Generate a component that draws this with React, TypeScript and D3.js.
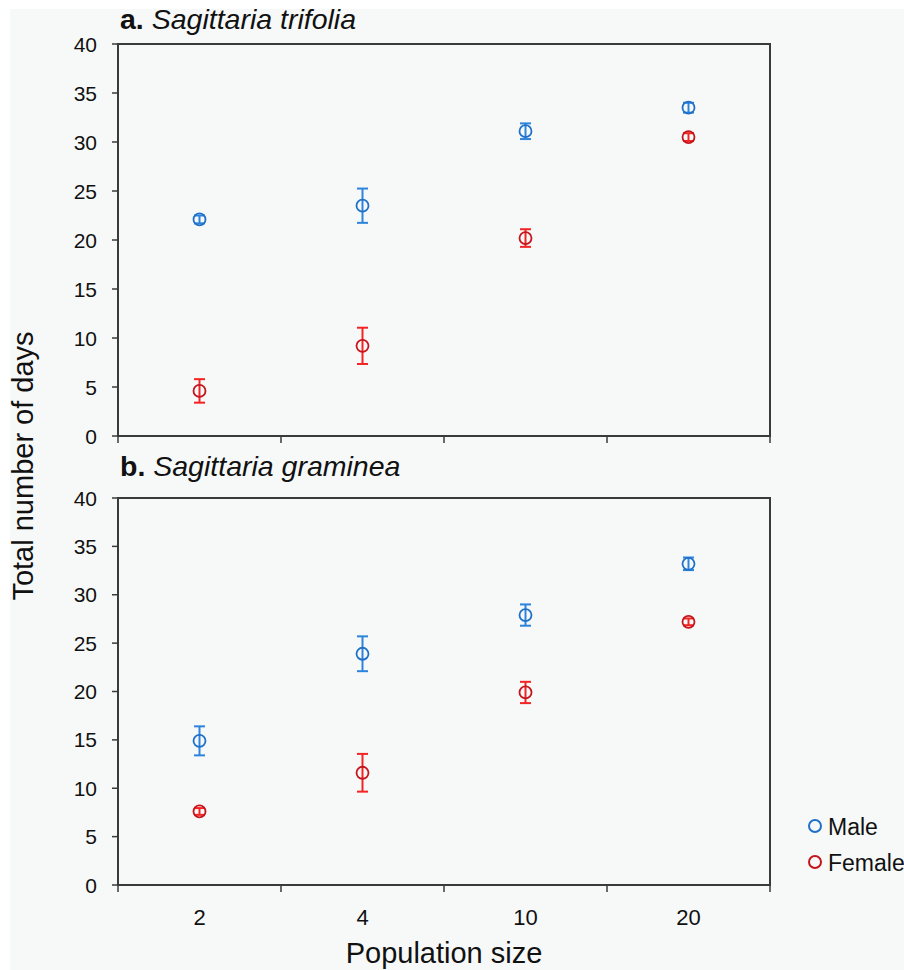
import React from "react";
import * as d3 from "d3";

const categories = ["2", "4", "10", "20"];
const yTicks = [0, 5, 10, 15, 20, 25, 30, 35, 40];

const trifoliaMale = [22.1, 23.5, 31.1, 33.5];
const trifoliaMaleErr = [0.4, 1.75, 0.8, 0.5];
const trifoliaFemale = [4.6, 9.2, 20.2, 30.5];
const trifoliaFemaleErr = [1.2, 1.85, 0.9, 0.4];

const gramineaMale = [14.9, 23.9, 27.9, 33.2];
const gramineaMaleErr = [1.5, 1.8, 1.1, 0.65];
const gramineaFemale = [7.6, 11.6, 19.9, 27.2];
const gramineaFemaleErr = [0.35, 1.95, 1.1, 0.35];

const MALE_C = "#1f70c8";
const MALE_BAR = "#2d84dc";
const FEM_C = "#c4141c";
const FEM_BAR = "#f42424";
const AXIS = "#3a3a3a";
const FONT = "'Liberation Sans', Arial, sans-serif";

const x = d3.scaleBand<string>().domain(categories).range([118, 770]).padding(0);

type Panel = {
  letter: string;
  species: string;
  top: number;
  bottom: number;
  titleY: number;
  male: number[];
  maleErr: number[];
  female: number[];
  femaleErr: number[];
  showXLabels: boolean;
};

const panels: Panel[] = [
  { letter: "a.", species: "Sagittaria trifolia", top: 44, bottom: 436, titleY: 29, male: trifoliaMale, maleErr: trifoliaMaleErr, female: trifoliaFemale, femaleErr: trifoliaFemaleErr, showXLabels: false },
  { letter: "b.", species: "Sagittaria graminea", top: 498, bottom: 885, titleY: 476, male: gramineaMale, maleErr: gramineaMaleErr, female: gramineaFemale, femaleErr: gramineaFemaleErr, showXLabels: true },
];

function Series({ y, vals, errs, circ, bar }: { y: d3.ScaleLinear<number, number>; vals: number[]; errs: number[]; circ: string; bar: string }) {
  return (
    <g>
      {vals.map((v, i) => {
        const cx = (x(categories[i]) as number) + x.bandwidth() / 2;
        const y1 = y(v + errs[i]);
        const y2 = y(v - errs[i]);
        return (
          <g key={i}>
            <line x1={cx} x2={cx} y1={y1} y2={y2} stroke={bar} strokeWidth={2} />
            <line x1={cx - 5.5} x2={cx + 5.5} y1={y1} y2={y1} stroke={bar} strokeWidth={2} />
            <line x1={cx - 5.5} x2={cx + 5.5} y1={y2} y2={y2} stroke={bar} strokeWidth={2} />
            <circle cx={cx} cy={y(v)} r={6} fill="none" stroke={circ} strokeWidth={1.8} />
          </g>
        );
      })}
    </g>
  );
}

function PanelView({ p }: { p: Panel }) {
  const y = d3.scaleLinear().domain([0, 40]).range([p.bottom, p.top]);
  const [x0, x1] = x.range();
  const bounds = [...categories.map((c) => x(c) as number), x1];
  return (
    <g>
      <text x={120} y={p.titleY} fontFamily={FONT} fontSize={28.5} fill="#111">
        <tspan fontWeight="bold">{p.letter}</tspan>
        <tspan fontStyle="italic"> {p.species}</tspan>
      </text>
      <rect x={x0} y={p.top} width={x1 - x0} height={p.bottom - p.top} fill="none" stroke={AXIS} strokeWidth={2} />
      {yTicks.map((t) => (
        <g key={t}>
          <line x1={x0 - 6} x2={x0} y1={y(t)} y2={y(t)} stroke={AXIS} strokeWidth={1.5} />
          <text x={97} y={y(t)} dy="0.36em" textAnchor="end" fontFamily={FONT} fontSize={21} fill="#111">
            {t}
          </text>
        </g>
      ))}
      {bounds.map((b, i) => (
        <line key={i} x1={b} x2={b} y1={p.bottom} y2={p.bottom + 7} stroke={AXIS} strokeWidth={1.5} />
      ))}
      {p.showXLabels &&
        categories.map((c) => (
          <text key={c} x={(x(c) as number) + x.bandwidth() / 2} y={925} textAnchor="middle" fontFamily={FONT} fontSize={22} fill="#111">
            {c}
          </text>
        ))}
      <Series y={y} vals={p.male} errs={p.maleErr} circ={MALE_C} bar={MALE_BAR} />
      <Series y={y} vals={p.female} errs={p.femaleErr} circ={FEM_C} bar={FEM_BAR} />
    </g>
  );
}

export default function App() {
  return (
    <svg width={904} height={970} style={{ position: "absolute", left: 0, top: 0 }}>
      <rect x={0} y={0} width={904} height={970} fill="#ffffff" />
      <rect x={10} y={9} width={894} height={961} fill="#f7f9f9" />
      {panels.map((p) => (
        <PanelView key={p.letter} p={p} />
      ))}
      <text transform="translate(33,466) rotate(-90)" textAnchor="middle" fontFamily={FONT} fontSize={29} fill="#111">
        Total number of  days
      </text>
      <text x={444} y={963} textAnchor="middle" fontFamily={FONT} fontSize={29} fill="#111">
        Population size
      </text>
      <circle cx={815} cy={826} r={6} fill="none" stroke={MALE_C} strokeWidth={2} />
      <text x={828} y={835} fontFamily={FONT} fontSize={23} fill="#111">Male</text>
      <circle cx={815} cy={862} r={6} fill="none" stroke={FEM_C} strokeWidth={2} />
      <text x={828} y={871} fontFamily={FONT} fontSize={23} fill="#111">Female</text>
    </svg>
  );
}
